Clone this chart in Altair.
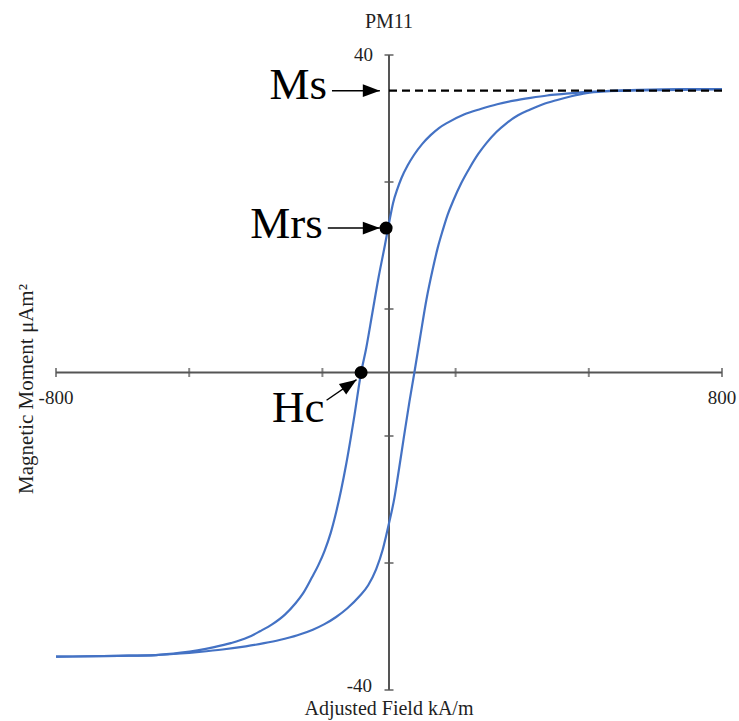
import altair as alt
import pandas as pd

# ---- data ----
# descending branch (from +saturation to -saturation)
desc_h = [800, 700, 600, 520, 460, 420, 380, 340, 300, 260, 220, 180, 140, 120, 100, 80, 60, 45, 30, 20, 10, 0,
          -10, -25, -40, -55, -67, -83, -103, -115, -127, -140, -155, -170, -185, -205, -225, -250, -280,
          -310, -340, -380, -420, -460, -500, -560, -650, -800]
desc_m = [35.7, 35.6, 35.55, 35.45, 35.3, 35.1, 34.9, 34.6, 34.25, 33.8, 33.2, 32.5, 31.45, 30.8, 29.9, 28.8,
          27.4, 26.1, 24.5, 23.1, 21.4, 18.8, 16.0, 12.0, 7.5, 3.0, 0.0, -5.4, -11.6, -14.8, -17.6, -20.2,
          -22.5, -24.3, -25.8, -27.7, -29.1, -30.5, -31.7, -32.6, -33.4, -34.1, -34.6, -35.0, -35.3, -35.6,
          -35.7, -35.8]
# ascending branch (from -saturation to +saturation)
asc_h = [-800, -650, -560, -500, -456, -400, -344, -300, -263, -220, -183, -155, -127, -100, -71, -50, -31,
         -15, -7, 0, 13, 21, 35, 49, 61, 75, 90, 105, 117, 129, 141, 154, 174, 194, 214, 234, 258, 282,
         310, 338, 370, 402, 438, 474, 523, 600, 700, 800]
asc_m = [-35.8, -35.7, -35.6, -35.4, -35.2, -34.9, -34.5, -34.1, -33.7, -33.1, -32.4, -31.7, -30.8, -29.7,
         -28.2, -26.8, -24.8, -22.3, -20.6, -19.0, -15.8, -13.2, -8.4, -3.7, 0.0, 4.5, 9.2, 13.0, 15.7, 17.9,
         19.9, 21.6, 23.9, 25.8, 27.5, 28.9, 30.3, 31.4, 32.4, 33.1, 33.8, 34.3, 34.8, 35.2, 35.45, 35.6,
         35.7, 35.7]

x_ticks = [-800, -480, -160, 160, 480, 800]
y_ticks = [-40, -24, -8, 8, 24, 40]
x_label_vals = [-800, 800]
x_label_txt = ["-800", "800"]
y_label_vals = [40, -40]
y_label_txt = ["40", "-40"]

ms_value = 35.5
mrs_x, mrs_y = -7, 18.2
hc_x, hc_y = -67, 0.0

title_txt = "PM11"
x_title = "Adjusted Field kA/m"
y_title = "Magnetic Moment \u03bcAm\u00b2"

# ---- tables ----
loop = pd.DataFrame(
    [{"h": h, "m": m, "branch": "desc", "i": i} for i, (h, m) in enumerate(zip(desc_h, desc_m))]
    + [{"h": h, "m": m, "branch": "asc", "i": i} for i, (h, m) in enumerate(zip(asc_h, asc_m))]
)
axes_df = pd.DataFrame({"x": [-800, 0], "x2": [800, 0], "y": [0, -40], "y2": [0, 40]})
xt_df = pd.DataFrame({"x": x_ticks, "y": [0] * len(x_ticks)})
yt_df = pd.DataFrame({"x": [0] * len(y_ticks), "y": y_ticks})
xl_df = pd.DataFrame({"x": x_label_vals, "y": [0, 0], "t": x_label_txt})
yl_df = pd.DataFrame({"x": [0, 0], "y": y_label_vals, "t": y_label_txt})
ms_df = pd.DataFrame({"x": [0], "x2": [800], "y": [ms_value]})
arrows = pd.DataFrame({
    "x": [-137, -147, -150], "y": [ms_value, mrs_y, -3.5],
    "x2": [-22, -22, -78], "y2": [ms_value, mrs_y, -0.9],
    "ang": [0, 0, 325.4],
    "t": ["Ms", "Mrs", "Hc"],
})
dots = pd.DataFrame({"x": [mrs_x, hc_x], "y": [mrs_y, hc_y]})

W, H = 666, 635
xs = alt.Scale(domain=[-800, 800], nice=False, zero=False)
ys = alt.Scale(domain=[-40, 40], nice=False, zero=False)
FONT = "Liberation Serif"
AX = "#555555"
TXT = "#1f1f1f"


def X(f="x"):
    return alt.X(f"{f}:Q", scale=xs, axis=None)


def Y(f="y"):
    return alt.Y(f"{f}:Q", scale=ys, axis=None)


axes = alt.Chart(axes_df).mark_rule(color=AX, strokeWidth=2).encode(
    x=X(), x2="x2:Q", y=Y(), y2="y2:Q")
xt = alt.Chart(xt_df).mark_tick(orient="vertical", size=9, thickness=2, color=AX).encode(x=X(), y=Y())
yt = alt.Chart(yt_df).mark_tick(orient="horizontal", size=9, thickness=2, color=AX).encode(x=X(), y=Y())

xl = alt.Chart(xl_df).mark_text(font=FONT, fontSize=19, color=TXT, align="center",
                                baseline="alphabetic", dy=31).encode(x=X(), y=Y(), text="t:N")
yl_top = alt.Chart(yl_df[yl_df.y > 0]).mark_text(font=FONT, fontSize=19, color=TXT, align="right",
                                                 baseline="middle", dx=-16).encode(x=X(), y=Y(), text="t:N")
yl_bot = alt.Chart(yl_df[yl_df.y < 0]).mark_text(font=FONT, fontSize=19, color=TXT, align="right",
                                                 baseline="middle", dx=-17, dy=-4).encode(x=X(), y=Y(), text="t:N")

curves = alt.Chart(loop).mark_line(color="#4472C4", strokeWidth=2.2, interpolate="monotone").encode(
    x=X("h"), y=Y("m"), detail="branch:N", order="i:Q")

ms_line = alt.Chart(ms_df).mark_rule(color="black", strokeWidth=2.2, strokeDash=[8, 5]).encode(
    x=X(), x2="x2:Q", y=Y())

arrow_lines = alt.Chart(arrows).mark_rule(color="black", strokeWidth=1.4).encode(
    x=X(), y=Y(), x2="x2:Q", y2="y2:Q")
arrow_heads = alt.Chart(arrows).mark_point(
    shape="M0,0L-2,-0.75L-2,0.75Z", filled=True, color="black", size=289, opacity=1, strokeWidth=0
).encode(x=X("x2"), y=Y("y2"), angle=alt.Angle("ang:Q", scale=None))

dot_marks = alt.Chart(dots).mark_point(shape="circle", filled=True, color="black", size=170,
                                       opacity=1, strokeWidth=0).encode(x=X(), y=Y())

ann_ms = alt.Chart(arrows[arrows.t == "Ms"]).mark_text(
    font=FONT, fontSize=45, color="black", align="right", baseline="alphabetic", dx=-5, dy=8
).encode(x=X(), y=Y(), text="t:N")
ann_mrs = alt.Chart(arrows[arrows.t == "Mrs"]).mark_text(
    font=FONT, fontSize=45, color="black", align="right", baseline="alphabetic", dx=-5, dy=10
).encode(x=X(), y=Y(), text="t:N")
ann_hc = alt.Chart(arrows[arrows.t == "Hc"]).mark_text(
    font=FONT, fontSize=45, color="black", align="right", baseline="alphabetic", dx=-2, dy=22
).encode(x=X(), y=Y(), text="t:N")

title = alt.Chart(pd.DataFrame({"x": [0], "y": [40], "t": [title_txt]})).mark_text(
    font=FONT, fontSize=20, color=TXT, align="center", baseline="alphabetic", dy=-27
).encode(x=X(), y=Y(), text="t:N")
xtitle = alt.Chart(pd.DataFrame({"x": [0], "y": [-40], "t": [x_title]})).mark_text(
    font=FONT, fontSize=20, color=TXT, align="center", baseline="alphabetic", dy=25
).encode(x=X(), y=Y(), text="t:N")
ytitle = alt.Chart(pd.DataFrame({"x": [-800], "y": [0], "t": [y_title]})).mark_text(
    font=FONT, fontSize=21, color=TXT, align="center", baseline="alphabetic", angle=270,
    dx=-16.5, dy=-23
).encode(x=X(), y=Y(), text="t:N")

chart = alt.layer(
    axes, xt, yt, xl, yl_top, yl_bot, curves, ms_line, arrow_lines, arrow_heads, dot_marks,
    ann_ms, ann_mrs, ann_hc, title, xtitle, ytitle
).properties(
    width=W, height=H,
    padding={"left": 56, "top": 55, "right": 17, "bottom": 31},
    autosize=alt.AutoSizeParams(type="none"),
    background="white",
).configure_view(stroke=None)

chart.save("out.html", embed_options={"renderer": "svg", "actions": False})
